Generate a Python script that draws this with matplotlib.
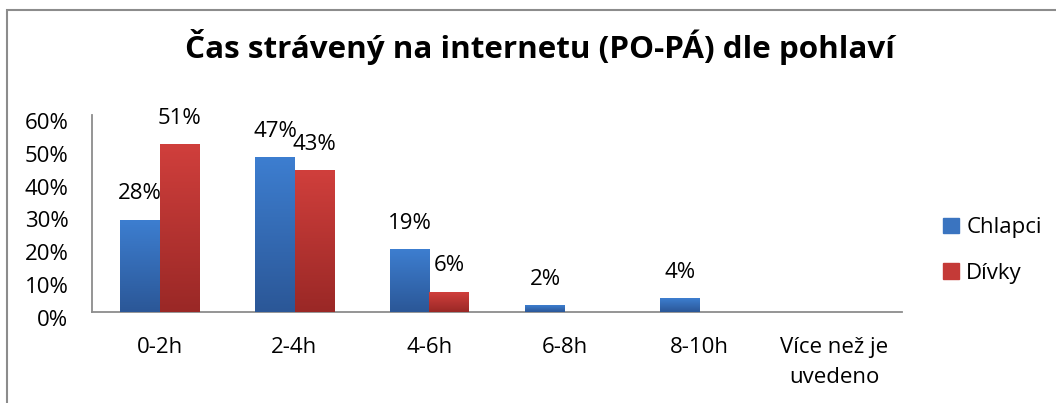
import matplotlib
matplotlib.use("Agg")
import matplotlib.pyplot as plt
import matplotlib.transforms as mtransforms
import numpy as np
from matplotlib.patches import Rectangle
from matplotlib.colors import LinearSegmentedColormap

categories = ["0-2h", "2-4h", "4-6h", "6-8h", "8-10h", "Více než je\nuvedeno"]
chlapci = [28, 47, 19, 2, 4, 0]
divky = [51, 43, 6, 0, 0, 0]
series_names = ["Chlapci", "Dívky"]
title = "Čas strávený na internetu (PO-PÁ) dle pohlaví"
yticks = [0, 10, 20, 30, 40, 50, 60]

FONT = ["Open Sans", "DejaVu Sans"]
plt.rcParams['font.family'] = FONT
FS = 16

W, H = 1056, 403
fig = plt.figure(figsize=(W / 100, H / 100), dpi=100)
fig.patch.set_facecolor("white")

# outer frame
fig.patches.append(Rectangle((7 / W, -0.1), 1.2, 1 - 10 / H + 0.1, transform=fig.transFigure,
                             fill=False, edgecolor="#8c8c8c", linewidth=1.5, clip_on=False))

ax = fig.add_axes([92 / W, 1 - 312 / H, 810 / W, 197 / H])
x = np.arange(len(categories))
bw = 0.289

blue_cmap = LinearSegmentedColormap.from_list("b", ["#2b5797", "#3d7ed0"])
red_cmap = LinearSegmentedColormap.from_list("r", ["#9a2826", "#d03f3c"])

b1 = ax.bar(x - bw / 2, chlapci, bw, color="#3a74c0", label=series_names[0], zorder=2)
b2 = ax.bar(x + bw / 2, divky, bw, color="#c43a37", label=series_names[1], zorder=2)

grad = np.linspace(0, 1, 256).reshape(-1, 1)
for bars, cmap in ((b1, blue_cmap), (b2, red_cmap)):
    for r in bars:
        h = r.get_height()
        if h <= 0:
            continue
        x0 = r.get_x()
        ax.imshow(grad, extent=[x0, x0 + r.get_width(), 0, h], origin="lower",
                  cmap=cmap, aspect="auto", zorder=3)
        r.set_alpha(0)

ax.set_xlim(-0.5, len(categories) - 0.5)
ax.set_ylim(0, 60)
ax.set_yticks(yticks)
ax.set_yticklabels([f"{v}%" for v in yticks], fontsize=FS)
ax.set_xticks(x)
ax.set_xticklabels(categories, fontsize=FS, linespacing=1.55)
ax.tick_params(axis="both", length=0, colors="black")
ax.tick_params(axis="y", pad=17)
ax.tick_params(axis="x", pad=18)
shift = mtransforms.ScaledTranslation(0, -6 / 100, fig.dpi_scale_trans)
for lab in ax.get_yticklabels():
    lab.set_transform(lab.get_transform() + shift)
for s in ["top", "right"]:
    ax.spines[s].set_visible(False)
for s in ["left", "bottom"]:
    ax.spines[s].set_color("#8c8c8c")
    ax.spines[s].set_linewidth(1.3)

for bars, vals in ((b1, chlapci), (b2, divky)):
    for r, v in zip(bars, vals):
        if v <= 0:
            continue
        ax.annotate(f"{v}%", (r.get_x() + r.get_width() / 2, v), xytext=(0, 19),
                    textcoords="offset points", ha="center", va="center", fontsize=FS, zorder=5)

fig.text(540 / W, 1 - 47 / H, title, ha="center", va="center", fontsize=22.6, fontweight="bold")

leg = ax.legend(loc="center left", bbox_to_anchor=((943 - 92) / 810, (312 - 250.5) / 197),
                frameon=False, fontsize=FS, borderpad=0, borderaxespad=0,
                handlelength=0.7, handleheight=0.7, labelspacing=1.1, handletextpad=0.35)
leg.legend_handles[0].set_color("#3a74c0")
leg.legend_handles[1].set_color("#c43a37")
for h in leg.legend_handles:
    h.set_alpha(1)

fig.savefig("out.png", dpi=100)
